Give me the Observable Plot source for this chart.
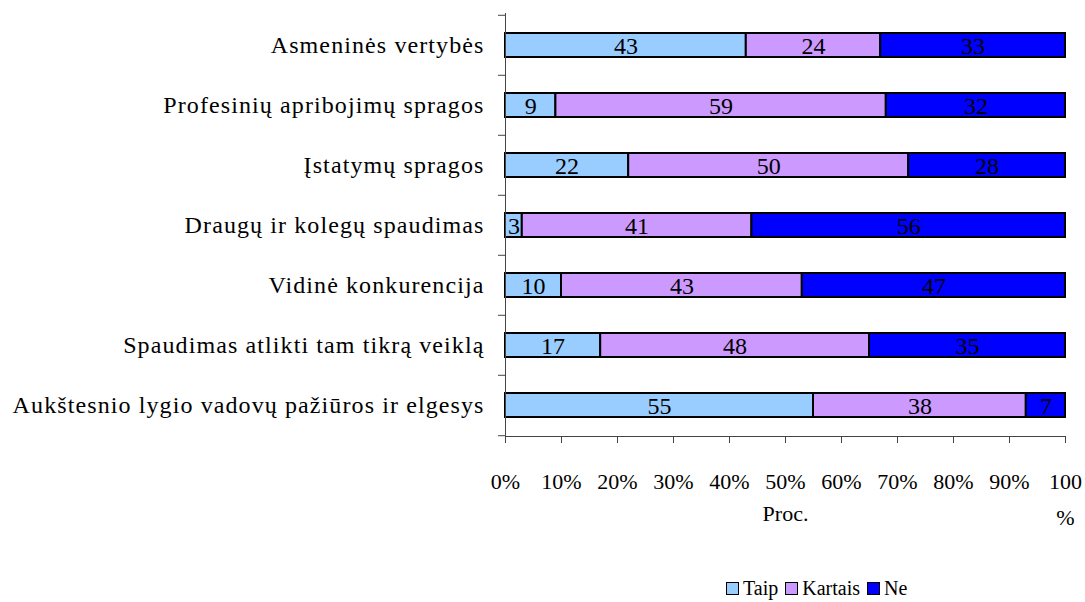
<!DOCTYPE html>
<html>
<head>
<meta charset="utf-8">
<script src="https://cdn.jsdelivr.net/npm/d3@7"></script>
<script src="https://cdn.jsdelivr.net/npm/@observablehq/plot@0.6"></script>
<style>
  html, body { margin: 0; padding: 0; background: #fff; }
  #chart svg { display: block; }
  #chart svg g[aria-label="y-axis tick label"] text { letter-spacing: 1.1px; }
  #legend { height: 27px; position: relative; font-family: "Liberation Serif", "Times New Roman", serif; font-size: 20px; color: #000; }
  #legend .row { position: absolute; left: 726px; top: 0; line-height: 27px; display: flex; gap: 7px; white-space: nowrap; }
  .item { display: inline-flex; align-items: center; }
  .sw { display: inline-block; width: 11px; height: 11px; border: 1.5px solid #000; margin-right: 4px; }
</style>
</head>
<body>
<div id="chart"></div>
<div id="legend"><div class="row"></div></div>
<script>
const categories = [
  "Asmeninės vertybės",
  "Profesinių apribojimų spragos",
  "Įstatymų spragos",
  "Draugų ir kolegų spaudimas",
  "Vidinė konkurencija",
  "Spaudimas atlikti tam tikrą veiklą",
  "Aukštesnio lygio vadovų pažiūros ir elgesys"
];
const series = ["Taip", "Kartais", "Ne"];
const taip    = [43,  9, 22,  3, 10, 17, 55];
const kartais = [24, 59, 50, 41, 43, 48, 38];
const ne      = [33, 32, 28, 56, 47, 35,  7];
const xTicks = [0, 10, 20, 30, 40, 50, 60, 70, 80, 90, 100];
const colors = ["#99ccff", "#cc99ff", "#0000ff"];
const axisLabel = "Proc.";

const seriesValues = [taip, kartais, ne];
const data = [];
categories.forEach((c, i) => {
  series.forEach((s, j) => data.push({category: c, series: s, value: seriesValues[j][i]}));
});

const W = 1085, H = 575, mT = 13, mB = 139, mL = 505, mR = 20;
const halfStep = (H - mT - mB) / categories.length / 2;
const serif = '"Liberation Serif", "Times New Roman", serif';

const chart = Plot.plot({
  width: W, height: H,
  marginLeft: mL, marginRight: mR, marginTop: mT, marginBottom: mB,
  style: {fontFamily: serif, fontSize: "22px", color: "#000", background: "#fff"},
  x: {domain: [0, 100], label: null},
  y: {domain: categories, paddingInner: 0.6, paddingOuter: 0.3, label: null},
  color: {domain: series, range: colors},
  marks: [
    Plot.barX(data, Plot.stackX({x: "value", y: "category", fill: "series", stroke: "#000", strokeWidth: 2})),
    Plot.text(data, Plot.stackX({x: "value", y: "category", z: "series", text: "value", fill: "#000", fontSize: 24, dy: 1})),
    Plot.frame({anchor: "left", stroke: "#444"}),
    Plot.frame({anchor: "bottom", stroke: "#444"}),
    Plot.axisY({tickSize: 0, tickPadding: 21, fontSize: 24, fill: "#000"}),
    Plot.axisY({ticks: categories, tickSize: 7, text: null, dy: -halfStep, stroke: "#444"}),
    Plot.axisY({ticks: [categories[categories.length - 1]], tickSize: 7, text: null, dy: halfStep, stroke: "#444"}),
    Plot.axisX({ticks: xTicks, tickSize: 7, tickPadding: 20, stroke: "#444", fill: "#000", fontSize: 22,
      lineHeight: 1.64,
      tickFormat: d => d === 100 ? "100\n%" : d + "%"}),
    Plot.text([axisLabel], {text: d => d, frameAnchor: "bottom", dy: 84, fontSize: 22, fill: "#000"})
  ]
});
document.getElementById("chart").append(chart);

const row = document.querySelector("#legend .row");
series.forEach((s, i) => {
  const it = document.createElement("span");
  it.className = "item";
  const sw = document.createElement("span");
  sw.className = "sw";
  sw.style.background = colors[i];
  it.append(sw, document.createTextNode(s));
  row.append(it);
});
</script>
</body>
</html>
